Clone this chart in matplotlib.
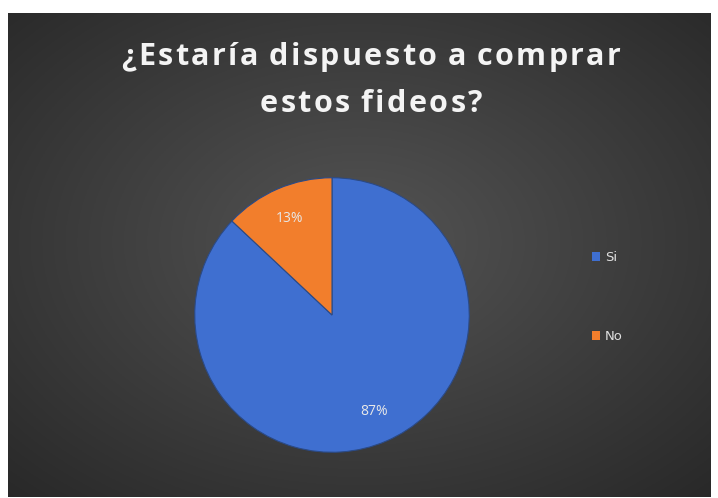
import numpy as np
import matplotlib
matplotlib.use("Agg")
import matplotlib.pyplot as plt

# data
labels = ["Si", "No"]
shares = [87, 13]
colors = ["#3F6FD0", "#F27E2C"]
title_lines = ["¿Estaría dispuesto a comprar", "estos fideos?"]

W, H = 718, 498
fig = plt.figure(figsize=(W / 100, H / 100), dpi=100, facecolor="white")

# dark radial background (chart area)
bg = fig.add_axes([8 / W, 1 - 497 / H, (711 - 8) / W, (497 - 13) / H])
yy, xx = np.mgrid[-1:1:300j, -1:1:400j]
r = np.sqrt((xx * 0.9) ** 2 + ((yy + 0.05) * 0.9) ** 2)
shade = 0.33 - 0.17 * np.clip(r, 0, 1.3) / 1.3
bg.imshow(np.dstack([shade, shade, shade]), aspect="auto", extent=[0, 1, 0, 1])
bg.axis("off")

# pie
ax = fig.add_axes([192 / W, 1 - 455 / H, 280 / W, 280 / H])
wedges, texts, autotexts = ax.pie(
    shares, colors=colors, startangle=90, counterclock=False,
    autopct="%1.0f%%", pctdistance=0.77,
    wedgeprops=dict(edgecolor="#2b4a86", linewidth=0.8),
    textprops=dict(color="#e8e8e8", fontsize=10, family="Open Sans"),
)
ax.set_xlim(-1.02, 1.02)
ax.set_ylim(-1.02, 1.02)
ax.set_aspect("equal")
ax.axis("off")

# title with letter spacing, drawn char by char
renderer = fig.canvas.get_renderer()
spacing = 2.4  # px between glyphs
fsize = 22
for line, base in zip(title_lines, [65, 112]):
    chars = []
    widths = []
    for ch in line:
        t = fig.text(0, 0, ch if ch != " " else "\u00a0", color="#f4f4f4",
                     fontsize=fsize, fontweight="bold", family="Open Sans",
                     va="baseline", ha="left")
        w = t.get_window_extent(renderer).width
        if ch == " ":
            w = fsize * 0.28
        chars.append(t)
        widths.append(w)
    total = sum(widths) + spacing * (len(widths) - 1)
    x = 371 - total / 2
    for t, w in zip(chars, widths):
        t.set_position((x / W, 1 - base / H))
        x += w + spacing

leg = fig.legend(wedges, labels, loc="center left",
                 bbox_to_anchor=(580 / W, 1 - 297 / H), frameon=False,
                 labelspacing=5.0, handlelength=0.6, handleheight=0.6,
                 handletextpad=0.4, fontsize=9.5)
for t in leg.get_texts():
    t.set_color("#e0e0e0")
for h in leg.legend_handles:
    h.set_edgecolor("none")

fig.savefig("out.png", dpi=100, facecolor="white")
